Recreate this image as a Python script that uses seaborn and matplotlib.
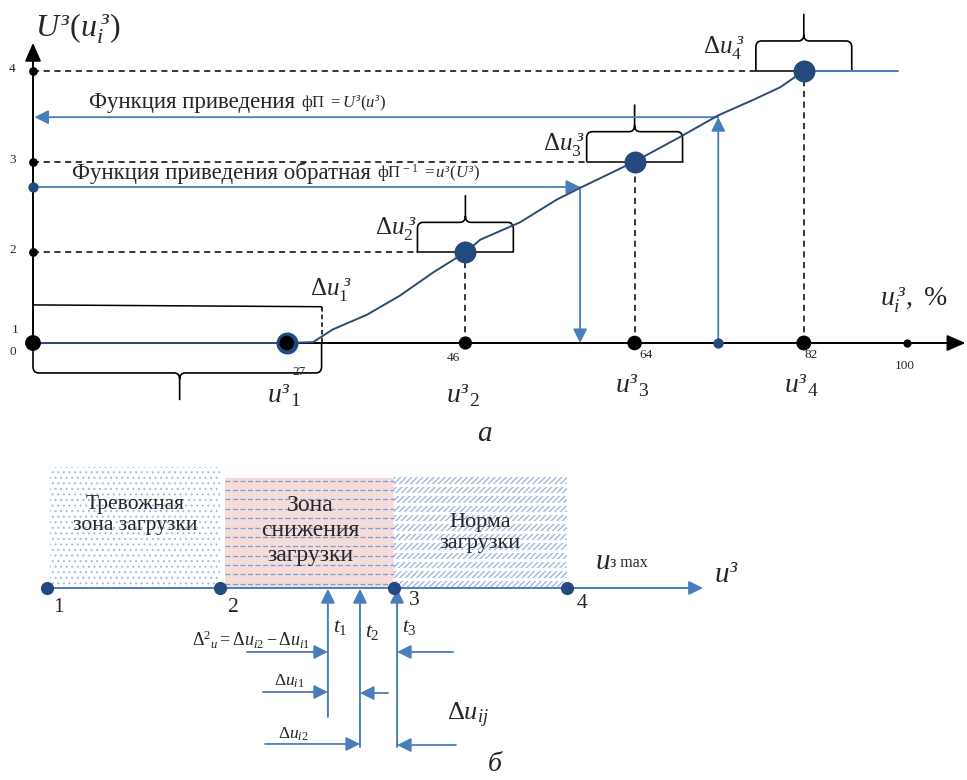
import numpy as np
import matplotlib
matplotlib.use('Agg')
import matplotlib.pyplot as plt
from matplotlib.path import Path
from matplotlib.patches import PathPatch
import seaborn as sns

# ---------- а) функция приведения ----------
u_pct = [27, 46, 64, 82]          # u^з_i, %
U_lvl = [1, 2, 3, 4]              # U^з(u^з_i)
u_tick_labels = ['27', '46', '64', '82']
pos_100 = 93                      # отметка 100 стоит сжато
y_tick_labels = ['1', '2', '3', '4']

# кривая фП
curve_x = [0, 27, 29.8, 31.9, 35.5, 39.0, 42.6, 46, 47.6, 51.8, 55.7, 58.2, 64, 68.8, 72.9, 76.6, 79.5, 82]
curve_u = [1, 1, 1.01, 1.15, 1.31, 1.52, 1.78, 2, 2.14, 2.33, 2.58, 2.71, 3, 3.27, 3.51, 3.68, 3.82, 4]
flat_x = [82, 92]
flat_u = [4, 4]

x_fwd, U_fwd = 72.9, 3.49        # прямая функция
x_inv, U_inv = 58.2, 2.72        # обратная функция
du_half = 5.1                     # полуширина скобок Δu

# ---------- б) зоны загрузки ----------
zone_pts = [0, 1, 2, 3]
zone_names = ['Тревожная\nзона загрузки', 'Зона\nснижения\nзагрузки', 'Норма\nзагрузки']
zone_tops = [0.70, 0.635, 0.64]
t_pos = [1.621, 1.806, 2.02]
t_low = [-0.744, -0.917, -0.917]

navy = '#23497E'
curve_col = '#2F4B74'
blue = '#4A7EBB'

sns.set_style('white')
plt.rcParams['font.family'] = ['Liberation Serif', 'DejaVu Serif']
plt.rcParams['mathtext.fontset'] = 'custom'
plt.rcParams['mathtext.rm'] = 'Liberation Serif'
plt.rcParams['mathtext.it'] = 'Liberation Serif:italic'
plt.rcParams['mathtext.bf'] = 'Liberation Serif:bold'
plt.rcParams['hatch.linewidth'] = 0.8

fig = plt.figure(figsize=(9.67, 7.8), dpi=100)
ax = fig.add_axes([0, 1 - 450 / 780, 1, 450 / 780])
ax.set_xlim(-33 / 9.4, 934 / 9.4)
ax.set_ylim(1 - 107 / 90.7, 1 + 343 / 90.7)
ax.axis('off')


def arrow(a, p0, p1, color, lw=1.3, ms=14, hl=0.6, hw=0.3, z=3):
    a.annotate('', xy=p1, xytext=p0,
               arrowprops=dict(arrowstyle=f'-|>,head_length={hl},head_width={hw}', color=color,
                               lw=lw, mutation_scale=ms, shrinkA=0, shrinkB=0), zorder=z)


def brace(a, x0, x1, xc, yb, yt, ytip, rx, ry, lw=1.2):
    s = np.sign(yt - yb)
    verts = [(x0, yb), (x0, yt - s * ry), (x0, yt), (x0 + rx, yt), (xc - rx, yt), (xc, yt),
             (xc, yt + s * ry), (xc, ytip), (xc, yt + s * ry), (xc, yt), (xc + rx, yt),
             (x1 - rx, yt), (x1, yt), (x1, yt - s * ry), (x1, yb)]
    codes = [Path.MOVETO, Path.LINETO, Path.CURVE3, Path.CURVE3, Path.LINETO, Path.CURVE3,
             Path.CURVE3, Path.LINETO, Path.MOVETO, Path.CURVE3, Path.CURVE3, Path.LINETO,
             Path.CURVE3, Path.CURVE3, Path.LINETO]
    a.add_patch(PathPatch(Path(verts, codes), fill=False, edgecolor='black', lw=lw, zorder=2))


# оси
arrow(ax, (0, 1), (99.2, 1), 'black', lw=1.4, ms=14, hl=0.8, hw=0.35)
arrow(ax, (0, 1), (0, 4.31), 'black', lw=1.4, ms=14, hl=0.8, hw=0.35)

# пунктиры к точкам
for x, U in zip(u_pct[1:], U_lvl[1:]):
    ax.plot([0, x - du_half], [U, U], ls=(0, (4, 3)), color='black', lw=1.1, zorder=1)
    ax.plot([x - du_half, x + du_half], [U, U], color='black', lw=1.1, zorder=1)
    ax.plot([x, x], [1, U], ls=(0, (4, 3)), color='black', lw=1.1, zorder=1)
    brace(ax, x - du_half, x + du_half, x, U, U + 0.33, U + 0.63, 0.6, 0.07)

# Δu1 и скобка под осью
ax.plot([0, 30.7], [1.42, 1.40], color='black', lw=1.1, zorder=1)
ax.plot([30.7, 30.7], [1.40, 1], ls=(0, (3, 2)), color='black', lw=1.1, zorder=1)
brace(ax, 0, 30.7, 15.6, 1, 0.67, 0.37, 0.6, 0.07)

# прямая и обратная функции
arrow(ax, (x_fwd, 1), (x_fwd, U_fwd), blue)
arrow(ax, (x_fwd, U_fwd), (0.15, U_fwd), blue)
arrow(ax, (0, U_inv), (x_inv, U_inv), blue)
arrow(ax, (x_inv, U_inv), (x_inv, 1.0), blue)

# кривая
sns.lineplot(x=curve_x, y=curve_u, ax=ax, color=curve_col, lw=1.4, sort=False, estimator=None, zorder=4)
sns.lineplot(x=flat_x, y=flat_u, ax=ax, color=blue, lw=1.4, sort=False, estimator=None, zorder=4)

# точки
sns.scatterplot(x=u_pct, y=U_lvl, ax=ax, s=250, color=navy, edgecolor=None, linewidth=0, zorder=5)
sns.scatterplot(x=[0] + u_pct, y=[1] * 5, ax=ax, s=[130, 110, 90, 110, 115], color='black',
                edgecolor=None, linewidth=0, zorder=6, legend=False)
sns.scatterplot(x=[pos_100], y=[1], ax=ax, s=35, color='black', edgecolor=None, linewidth=0, zorder=6)
sns.scatterplot(x=[0, 0, 0], y=U_lvl[1:], ax=ax, s=40, color='black', edgecolor=None, linewidth=0, zorder=6)
sns.scatterplot(x=[0, x_fwd], y=[U_inv, 1], ax=ax, s=55, color=navy, edgecolor=None, linewidth=0, zorder=6)

# подписи делений
for x, lab, dx, dy in zip(u_pct, u_tick_labels, [1.3, -1.3, 1.2, 0.8], [-0.32, -0.17, -0.13, -0.13]):
    ax.text(x + dx, 1 + dy, lab, fontsize=9.5, ha='center', va='center')
ax.text(pos_100 - 0.3, 0.75, '100', fontsize=9.5, ha='center', va='center')
for U, lab in zip(U_lvl[1:], y_tick_labels[1:]):
    ax.text(-2.2, U + 0.02, lab, fontsize=9.5, ha='center', va='center')
ax.text(-1.9, 1.14, '1', fontsize=9.5, ha='center', va='center')
ax.text(-2.1, 0.9, '0', fontsize=9.5, ha='center', va='center')

for x, i, dy in zip(u_pct, [1, 2, 3, 4], [0.42, 0.42, 0.52, 0.53]):
    ax.text(x - 0.3, dy, rf'$u^{{з}}{{}}_{{{i}}}$', fontsize=20, ha='center', va='center')

for x, U, i in zip([29.5, 36.4, 54.3, 71.3], [1.58, 2.25, 3.18, 4.25], [1, 2, 3, 4]):
    ax.text(x, U, rf'$\Delta u_{{{i}}}^{{\;з}}$', fontsize=18, ha='left', va='center')

ax.text(0.2, 4.47, r'$U^{з}(u_i^{\,з})$', fontsize=23, ha='left', va='center')
ax.text(90.1, 1.47, r'$u^{\,з}_{i},$ %', fontsize=20, ha='left', va='center')
ax.text(48.1, 0.0, r'$а$', fontsize=21, ha='center', va='center')

t1 = ax.text(6.0, 3.65, 'Функция приведения ', fontsize=16.5, ha='left', va='center')
ax.annotate(r'фП $= U^{з}(u^{з})$', xy=(1, 0.5), xycoords=t1, fontsize=12, ha='left', va='center')
t2 = ax.text(4.2, 2.87, 'Функция приведения обратная ', fontsize=16.5, ha='left', va='center')
ax.annotate(r'фП$^{\,-1}$ $= u^{з}(U^{з})$', xy=(1, 0.5), xycoords=t2, fontsize=12, ha='left', va='center')

# ---------- б ----------
bx = fig.add_axes([0, 0, 1, 330 / 780])
bx.set_xlim(-47 / 173.3, 920 / 173.3)
bx.set_ylim(-192 / 173.3, 138 / 173.3)
bx.axis('off')

# зоны
bx.fill_between([zone_pts[0] + 0.02, zone_pts[1]], 0, zone_tops[0], facecolor='white',
                edgecolor='#A6BEE0', hatch='...', lw=0, zorder=0)
bx.fill_between([zone_pts[1] + 0.03, zone_pts[2]], 0, zone_tops[1], facecolor='#F3DCDA', lw=0, zorder=0)
for yy in np.arange(0.025, zone_tops[1], 0.054):
    bx.plot([zone_pts[1] + 0.03, zone_pts[2]], [yy, yy], ls=(0, (4, 2)), color='#7C9ED0', lw=0.9, zorder=1)
bx.fill_between([zone_pts[2], zone_pts[3]], 0, zone_tops[2], facecolor='white',
                edgecolor='#8EAADB', hatch='//////', lw=0, zorder=0)
for yy in np.arange(0.0, zone_tops[2], 0.054):
    bx.plot([zone_pts[2], zone_pts[3]], [yy, yy], color='white', lw=2.2, zorder=1)

for x, name, y, fs, ls in zip([0.508, 1.518, 2.50], zone_names, [0.42, 0.33, 0.317],
                              [15.5, 17, 16], [1.15, 1.25, 1.1]):
    bx.text(x, y, name, fontsize=fs, ha='center', va='center', linespacing=ls, zorder=3)

arrow(bx, (0, 0), (3.785, 0), blue, lw=1.4)
sns.scatterplot(x=zone_pts, y=[0] * 4, ax=bx, s=90, color=navy, edgecolor=None, linewidth=0, zorder=5)
for x, lab, dx, y in zip(zone_pts, ['1', '2', '3', '4'], [0.065, 0.075, 0.12, 0.087], [-0.11, -0.11, -0.07, -0.09]):
    bx.text(x + dx, y, lab, fontsize=15.5, ha='center', va='center')

tu = bx.text(3.16, 0.15, r'$u$', fontsize=21, ha='left', va='center')
bx.annotate('з max', xy=(1, 0.45), xycoords=tu, fontsize=11.5, ha='left', va='center')
bx.text(3.85, 0.07, r'$u^{з}$', fontsize=21, ha='left', va='center')

for x, y0, i, dy in zip(t_pos, t_low, [1, 2, 3], [-0.23, -0.254, -0.23]):
    arrow(bx, (x, y0), (x, -0.005), blue, lw=1.4, ms=14)
    bx.text(x + 0.07, dy, rf'$t_{{{i}}}$', fontsize=15.5, ha='center', va='center')

arrow(bx, (1.154, -0.369), (t_pos[0], -0.369), blue, lw=1.3)
arrow(bx, (1.246, -0.600), (t_pos[0], -0.600), blue, lw=1.3)
arrow(bx, (1.968, -0.606), (t_pos[1], -0.606), blue, lw=1.3)
arrow(bx, (1.258, -0.900), (t_pos[1], -0.900), blue, lw=1.3)
arrow(bx, (2.343, -0.369), (t_pos[2], -0.369), blue, lw=1.3)
arrow(bx, (2.360, -0.906), (t_pos[2], -0.906), blue, lw=1.3)

bx.text(1.177, -0.30, r'$\Delta^{2}{}_{u} = \Delta u_{i2} - \Delta u_{i1}$', fontsize=13, ha='center', va='center')
bx.text(1.40, -0.537, r'$\Delta u_{i1}$', fontsize=12.5, ha='center', va='center')
bx.text(1.42, -0.842, r'$\Delta u_{i2}$', fontsize=12.5, ha='center', va='center')
bx.text(2.43, -0.733, r'$\Delta u_{ij}$', fontsize=19, ha='center', va='center')
bx.text(2.585, -1.02, r'$б$', fontsize=20, ha='center', va='center')

fig.savefig('out.png', dpi=100)
